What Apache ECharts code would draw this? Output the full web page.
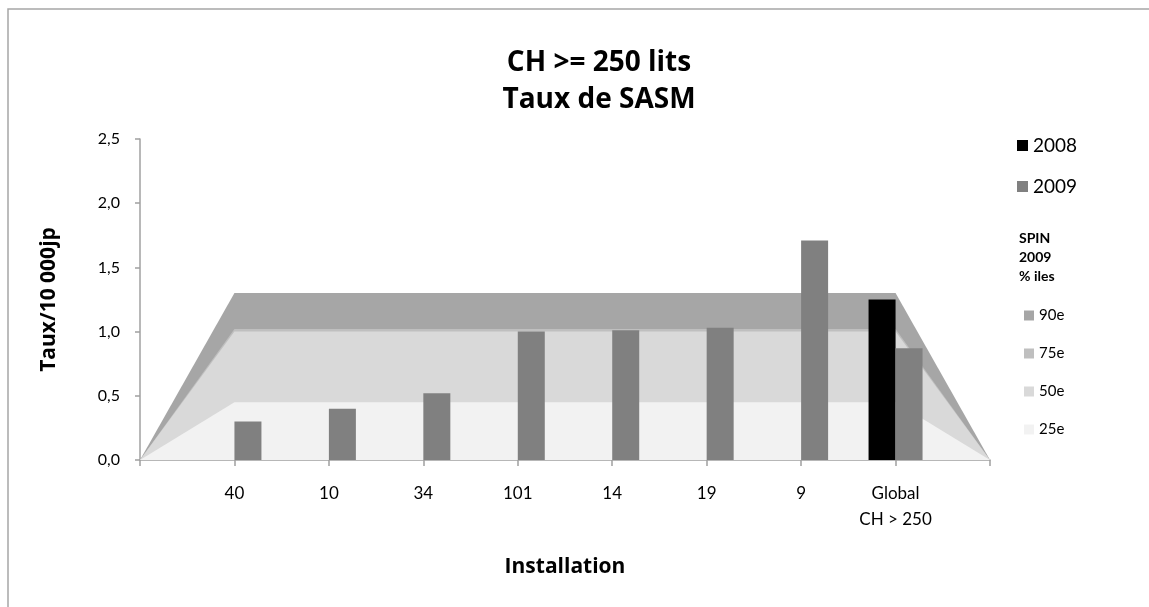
<!DOCTYPE html>
<html>
<head>
<meta charset="utf-8">
<script src="https://cdn.jsdelivr.net/npm/echarts@6/dist/echarts.min.js"></script>
<style>
  html, body { margin: 0; padding: 0; background: #fff; }
  #chart { width: 1149px; height: 607px; }
</style>
</head>
<body>
<div id="chart"></div>
<script>
// categories (first and last are the empty edge points of the SPIN bands)
const categories = ["", "40", "10", "34", "101", "14", "19", "9", "Global\nCH > 250", ""];

// bars
const taux2008 = [null, null, null, null, null, null, null, null, 1.25, null];
const taux2009 = [null, 0.3, 0.4, 0.52, 1.0, 1.01, 1.03, 1.71, 0.87, null];

// SPIN 2009 percentiles
const p90 = [0, 1.3, 1.3, 1.3, 1.3, 1.3, 1.3, 1.3, 1.3, 0];
const p75 = [0, 1.02, 1.02, 1.02, 1.02, 1.02, 1.02, 1.02, 1.02, 0];
const p50 = [0, 1.0, 1.0, 1.0, 1.0, 1.0, 1.0, 1.0, 1.0, 0];
const p25 = [0, 0.45, 0.45, 0.45, 0.45, 0.45, 0.45, 0.45, 0.45, 0];

const font = "Lato, 'Open Sans', sans-serif";
const boldFont = "'Open Sans', Lato, sans-serif";
const axisGrey = "#a0a0a0";

function band(name, data, color) {
  return {
    name: name,
    type: "line",
    data: data,
    color: color,
    symbol: "none",
    lineStyle: { width: 0 },
    areaStyle: { color: color, opacity: 1 },
    silent: true,
  };
}

const chart = echarts.init(document.getElementById("chart"));

const option = {
  backgroundColor: "#fff",
  textStyle: { fontFamily: font },
  animation: false,
  grid: { left: 140, right: 159, top: 139, bottom: 147 },
  legend: [
    {
      data: ["2008", "2009"],
      orient: "vertical",
      left: 1012,
      top: 131,
      icon: "rect",
      itemWidth: 11,
      itemHeight: 11,
      itemGap: 22,
      textStyle: { fontSize: 19, color: "#000", fontFamily: font },
    },
    {
      data: ["90e", "75e", "50e", "25e"],
      orient: "vertical",
      left: 1019,
      top: 303,
      icon: "rect",
      itemWidth: 10,
      itemHeight: 10,
      itemGap: 23,
      textStyle: { fontSize: 15, color: "#000", fontFamily: font },
    },
  ],
  graphic: [
    {
      type: "rect",
      shape: { x: 8, y: 9, width: 1200, height: 700 },
      style: { fill: "none", stroke: "#a6a6a6", lineWidth: 1.5 },
      silent: true,
    },
    {
      type: "text",
      x: 599,
      y: 45,
      style: {
        text: "CH >= 250 lits\nTaux de SASM",
        font: "bold 28px " + boldFont,
        textAlign: "center",
        lineHeight: 37,
        fill: "#000",
      },
    },
    {
      type: "text",
      x: 1019,
      y: 229,
      style: {
        text: "SPIN\n2009\n% iles",
        font: "bold 14px " + font,
        lineHeight: 19,
        fill: "#000",
      },
    },
  ],
  xAxis: {
    type: "category",
    data: categories,
    boundaryGap: false,
    name: "Installation",
    nameLocation: "middle",
    nameGap: 97,
    nameTextStyle: { fontSize: 21, fontWeight: "bold", color: "#000", fontFamily: boldFont },
    axisLine: { lineStyle: { color: axisGrey, width: 1.5 } },
    axisTick: { show: true, length: 6, lineStyle: { color: axisGrey, width: 1.5 } },
    axisLabel: {
      interval: 0,
      fontSize: 17,
      color: "#000",
      margin: 21,
      lineHeight: 26,
    },
  },
  yAxis: {
    type: "value",
    min: 0,
    max: 2.5,
    interval: 0.5,
    name: "Taux/10 000jp",
    nameLocation: "middle",
    nameRotate: 90,
    nameGap: 80,
    nameTextStyle: { fontSize: 21, fontWeight: "bold", color: "#000", fontFamily: boldFont },
    splitLine: { show: false },
    axisLine: { show: true, lineStyle: { color: axisGrey, width: 1.5 } },
    axisTick: { show: true, length: 5, lineStyle: { color: axisGrey, width: 1.5 } },
    axisLabel: {
      fontSize: 16,
      color: "#000",
      margin: 20,
      formatter: (v) => v.toFixed(1).replace(".", ","),
    },
  },
  series: [
    band("90e", p90, "#a6a6a6"),
    band("75e", p75, "#bfbfbf"),
    band("50e", p50, "#d9d9d9"),
    band("25e", p25, "#f2f2f2"),
    {
      name: "2008",
      type: "bar",
      data: taux2008,
      color: "#000000",
      barWidth: 27,
      barGap: "0%",
      z: 5,
    },
    {
      name: "2009",
      type: "bar",
      data: taux2009,
      color: "#808080",
      barWidth: 27,
      barGap: "0%",
      z: 5,
    },
  ],
};

chart.setOption(option);
</script>
</body>
</html>
